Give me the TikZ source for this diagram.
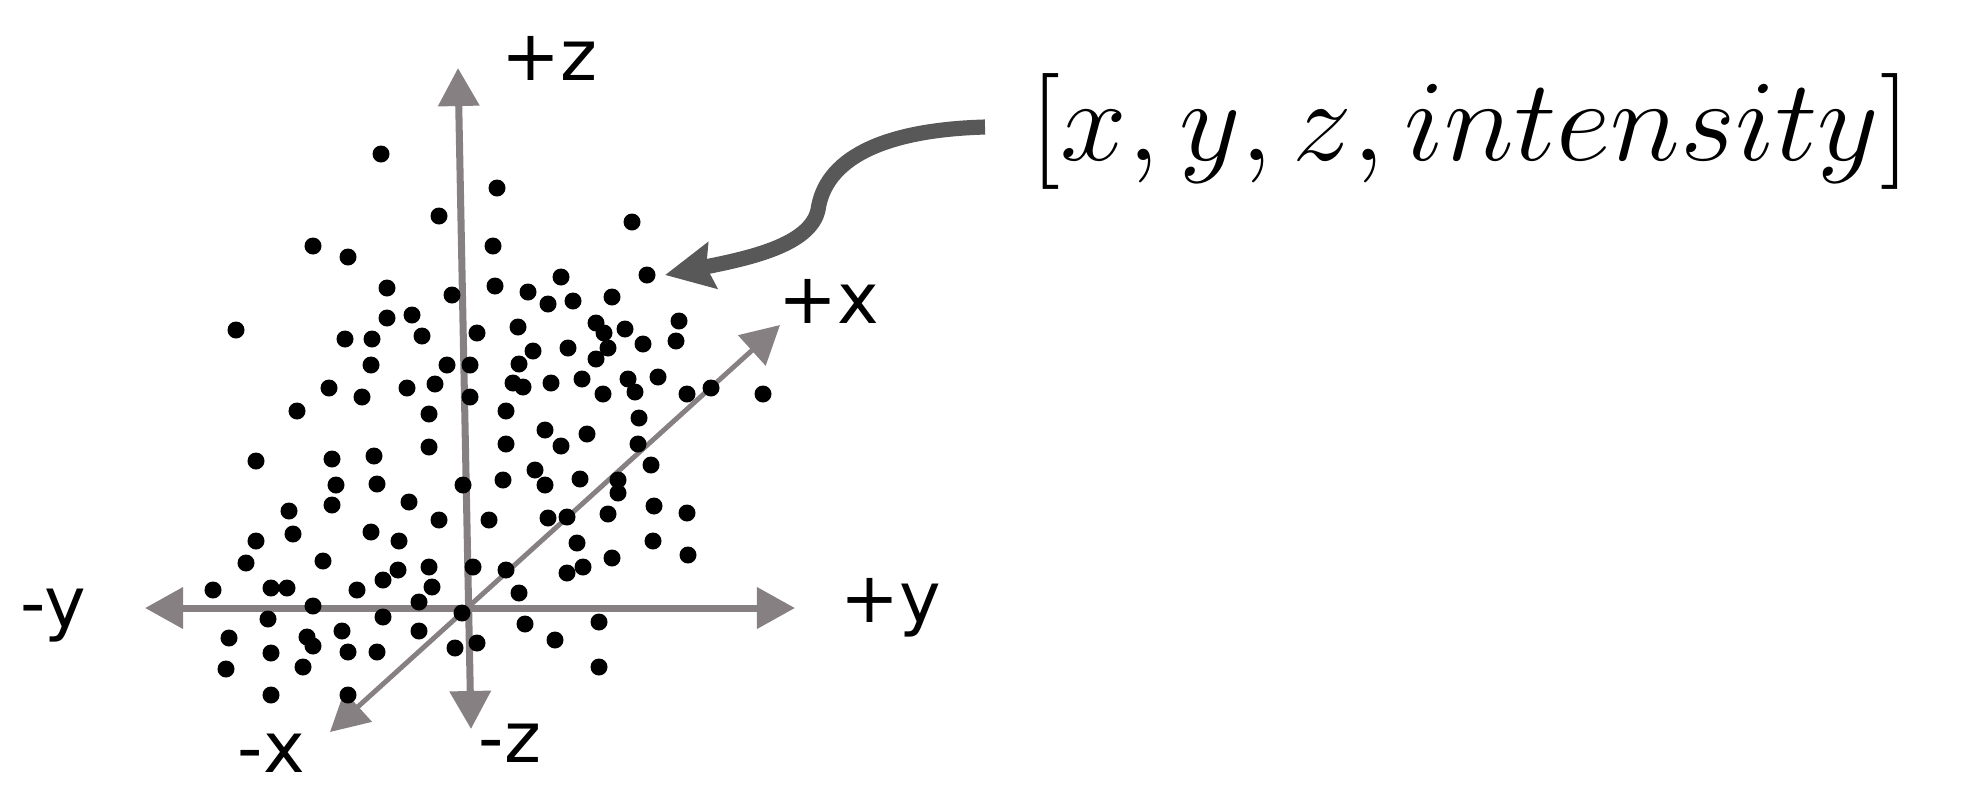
\RequirePackage{fix-cm}
\documentclass[tikz,border=0pt]{standalone}
\usepackage{fontspec}
\usepackage{graphicx}
\usetikzlibrary{arrows.meta}
\newfontfamily\axisfont{DejaVu Sans}
\definecolor{axisgray}{RGB}{135,128,130}
\definecolor{pointergray}{RGB}{88,88,88}
\tikzset{
  axis/.style={draw=axisgray, line width=2pt, {Triangle[length=0.38cm,width=0.4cm]}-{Triangle[length=0.38cm,width=0.4cm]}},
  diagaxis/.style={axis, line width=1.4pt},
  axislabel/.style={font=\axisfont\fontsize{20}{24}\selectfont, inner sep=0pt, anchor=base west},
  pointer/.style={draw=pointergray, line width=4.3pt, -{Stealth[length=0.48cm,width=0.46cm,inset=0.06cm]}},
}
\begin{document}
\begin{tikzpicture}[x=0.01cm, y=-0.01cm]
  \useasboundingbox (0,0) rectangle (1961,802);
  % axis ends
  \coordinate (zpos) at (458,68);
  \coordinate (zneg) at (471,729);
  \coordinate (ypos) at (795,608);
  \coordinate (yneg) at (145,608);
  \coordinate (xpos) at (780,325);
  \coordinate (xneg) at (330,732);
  \draw[axis] (zneg) -- (zpos);
  \draw[axis] (yneg) -- (ypos);
  \draw[diagaxis] (xneg) -- (xpos);
  \node[axislabel] (labzpos) at (501,80) {+z};
  \node[axislabel] (labzneg) at (478,762) {-z};
  \node[axislabel] (labypos) at (840,622) {+y};
  \node[axislabel] (labyneg) at (20,627) {-y};
  \node[axislabel] (labxpos) at (778,323) {+x};
  \node[axislabel] (labxneg) at (237,772) {-x};
  % point cloud
  \foreach \p in {
    (381,154),(497,188),(439,216),(313,246),(348,257),(493,246),(387,288),(452,295),
    (495,286),(236,330),(387,318),(412,315),(345,339),(372,339),(422,336),(477,333),
    (371,365),(447,365),(470,365),(329,388),(362,397),(407,388),(435,384),(470,397),
    (297,411),(429,414),(506,411),(632,222),(647,275),(561,277),(528,292),(548,304),
    (573,301),(612,297),(518,327),(596,323),(604,333),(625,329),(679,321),(676,341),
    (643,344),(608,348),(568,348),(533,351),(519,364),(596,359),(513,383),(523,387),
    (551,383),(582,379),(603,394),(628,379),(635,392),(658,377),(687,394),(711,388),
    (763,394),(639,418),(429,447),(256,461),(332,459),(374,456),(336,485),(377,484),
    (463,485),(332,505),(409,502),(289,511),(439,520),(489,520),(293,534),(256,541),
    (371,532),(399,541),(246,563),(323,561),(398,570),(383,580),(429,567),(473,567),
    (213,590),(271,588),(287,588),(357,590),(432,587),(419,602),(313,606),(462,613),
    (268,619),(383,617),(419,631),(229,638),(307,637),(313,646),(342,631),(477,643),
    (455,648),(271,653),(348,652),(377,652),(226,669),(303,667),(271,695),(348,695),
    (506,444),(545,430),(561,446),(587,434),(638,444),(651,465),(535,470),(545,485),
    (580,479),(618,480),(618,493),(503,480),(548,518),(567,517),(608,514),(654,506),
    (687,513),(577,543),(653,541),(688,555),(506,570),(567,573),(583,567),(612,558),
    (519,593),(525,624),(599,622),(555,640),(599,667)}
    \fill \p circle[radius=0.085cm];
  % tuple label and pointer
  \node[anchor=base west, inner sep=0pt, font=\fontsize{33}{40}\selectfont] (tuple) at (1030,160) {\scalebox{1.03}[1]{$[x,y,z,intensity]$}};
  \coordinate (tail) at (985,127);
  \coordinate (target) at (665,275);
  \draw[pointer] (tail) .. controls (880,130) and (825,160) .. (818,210)
    .. controls (810,245) and (750,258) .. (target);
\end{tikzpicture}
\end{document}
